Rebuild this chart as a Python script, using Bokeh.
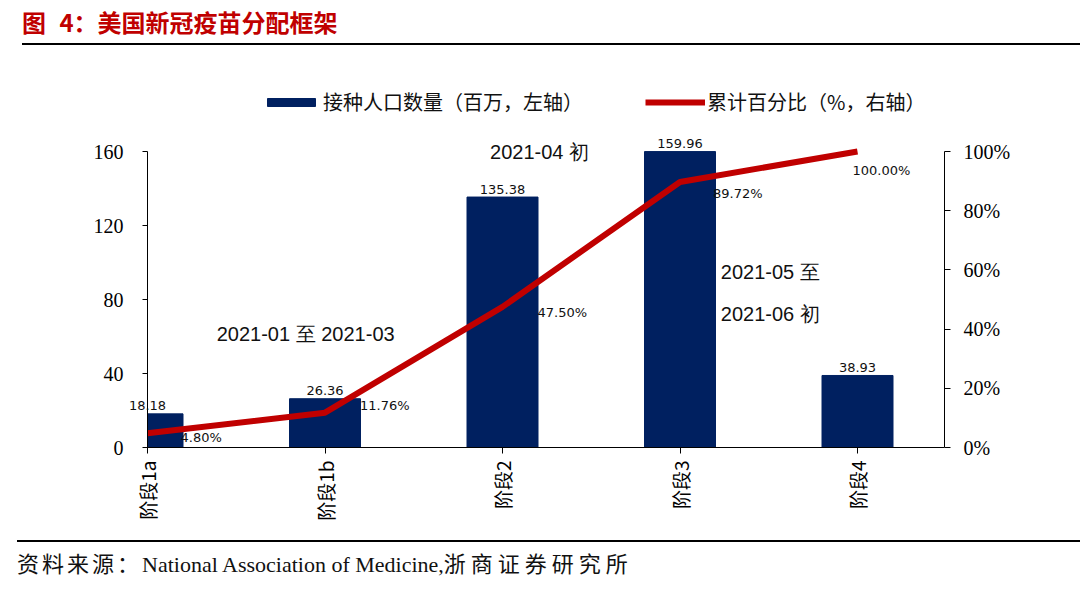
from bokeh.plotting import figure
from bokeh.models import (Range1d, LinearAxis, FixedTicker, NumeralTickFormatter,
                          ColumnDataSource, LabelSet, Legend, LegendItem, Div)
from bokeh.core.properties import value
from bokeh.layouts import column
from bokeh.embed import file_html
from bokeh.resources import INLINE

# ---------------- data ----------------
categories = ["阶段1a", "阶段1b", "阶段2", "阶段3", "阶段4"]
population = [18.18, 26.36, 135.38, 159.96, 38.93]       # 百万, left axis
cum_pct = [4.80, 11.76, 47.50, 89.72, 100.00]             # %, right axis
left_ticks = [0, 40, 80, 120, 160]
right_ticks = [0, 20, 40, 60, 80, 100]
legend_labels = ["接种人口数量（百万，左轴）", "累计百分比（%，右轴）"]
phase_notes = ["2021-01 至 2021-03", "2021-04 初", "2021-05 至", "2021-06 初"]
title_text = "图 4：美国新冠疫苗分配框架"
source_cn1 = "资料来源："
source_en = "National Association of Medicine,"
source_cn2 = "浙商证券研究所"

# ---------------- styles / placement ----------------
NAVY = "#002060"
RED = "#C00000"
CJK = "Noto Sans CJK SC"
SERIF = "Liberation Serif"
NUM_FONT = "DejaVu Sans"
NOTE_FONT = "Liberation Sans"
TXT = "#111111"
pct_dx = [33, 35, 35, 33, -5]
pct_dy = [-4, 7, -6, -12, -19]
note_x = [0.39, 1.93, 3.23, 3.23]
note_y = [61.1, 160.0, 95.1, 71.9]
BAR_W = 0.4

# pixel geometry (page pixels)
FIG_TOP, FIG_H, FIG_W = 46, 489, 1080
FRAME_L, FRAME_R, FRAME_T, FRAME_B = 60, 944, 70, 460
AXIS_X, ZERO_Y = 147, 447     # where the left axis / zero line sit
CAT_PX = 177.5                # pixels between categories
Y_PX = 296 / 160              # pixels per left-axis unit

x_start = (FRAME_L - AXIS_X) / CAT_PX
x_end = (FRAME_R - AXIS_X) / CAT_PX
y_start = -(FRAME_B - ZERO_Y) / Y_PX
y_end = (ZERO_Y - FRAME_T) / Y_PX
y_max = left_ticks[-1]

xs = list(range(len(categories)))
src = ColumnDataSource(dict(
    x=xs,
    left=[max(x - BAR_W / 2, 0) for x in xs],
    right=[x + BAR_W / 2 for x in xs],
    pop=population,
    pop_txt=[f"{v:.2f}" for v in population],
    pct=[v / 100 for v in cum_pct],
    pct_txt=[f"{v:.2f}%" for v in cum_pct],
    dx=pct_dx,
    dy=pct_dy,
))
note_src = ColumnDataSource(dict(x=note_x, y=note_y, text=phase_notes))

p = figure(width=FIG_W, height=FIG_H, output_backend="svg", toolbar_location=None,
           x_range=Range1d(x_start, x_end), y_range=Range1d(y_start, y_end),
           min_border_left=FRAME_L, min_border_right=FIG_W - FRAME_R,
           min_border_top=FRAME_T - FIG_TOP, min_border_bottom=FIG_TOP + FIG_H - FRAME_B)
p.extra_y_ranges = {"pct": Range1d(y_start / y_max, y_end / y_max)}
p.outline_line_color = None
p.xgrid.visible = False
p.ygrid.visible = False
p.background_fill_color = "white"
p.border_fill_color = "white"

# left axis (pinned at category 0)
ya = p.yaxis[0]
ya.fixed_location = 0
ya.bounds = (0, y_max)
ya.ticker = FixedTicker(ticks=left_ticks)
ya.minor_tick_line_color = None
ya.major_tick_in = 0
ya.major_tick_out = 5
ya.major_label_standoff = 19
ya.major_label_text_font = SERIF
ya.major_label_text_font_size = "20px"
ya.major_label_text_color = "black"
ya.axis_line_color = "black"
ya.major_tick_line_color = "black"

# bottom axis: category labels (at the frame edge)
xa = p.xaxis[0]
xa.bounds = (0, x_end)
xa.ticker = FixedTicker(ticks=xs)
xa.major_label_overrides = {i: c for i, c in zip(xs, categories)}
xa.major_label_orientation = 3.14159265 / 2
xa.minor_tick_line_color = None
xa.major_tick_line_color = None
xa.axis_line_color = None
xa.major_tick_in = 0
xa.major_tick_out = 0
xa.major_label_standoff = 0
xa.major_label_text_font = CJK
xa.major_label_text_font_size = "19px"
xa.major_label_text_color = "black"

# bottom axis line and ticks pinned at zero
xa0 = LinearAxis(fixed_location=0, bounds=(0, x_end), ticker=FixedTicker(ticks=xs))
xa0.major_label_overrides = {i: "" for i in xs}
xa0.minor_tick_line_color = None
xa0.major_tick_in = 0
xa0.major_tick_out = 6
xa0.major_label_standoff = 0
xa0.major_label_text_font_size = "1px"
xa0.axis_line_color = "black"
xa0.major_tick_line_color = "black"
p.add_layout(xa0, "below")

# right axis
ra = LinearAxis(y_range_name="pct", bounds=(0, 1),
                ticker=FixedTicker(ticks=[t / 100 for t in right_ticks]),
                formatter=NumeralTickFormatter(format="0%"))
ra.minor_tick_line_color = None
ra.major_tick_in = 0
ra.major_tick_out = 6
ra.major_label_standoff = 13
ra.major_label_text_font = SERIF
ra.major_label_text_font_size = "20px"
ra.major_label_text_color = "black"
ra.axis_line_color = "black"
ra.major_tick_line_color = "black"
p.add_layout(ra, "right")

bars = p.quad(left="left", right="right", bottom=0, top="pop", source=src,
              fill_color=NAVY, line_color=NAVY)
line = p.line(x="x", y="pct", y_range_name="pct", source=src,
              line_color=RED, line_width=6)

p.add_layout(LabelSet(x="x", y="pop", text="pop_txt", source=src,
                      text_align="center", text_baseline="middle", y_offset=8,
                      text_font=value(NUM_FONT), text_font_size="13px", text_color=TXT))
p.add_layout(LabelSet(x="x", y="pct", text="pct_txt", source=src, y_range_name="pct",
                      x_offset="dx", y_offset="dy",
                      text_align="left", text_baseline="middle",
                      text_font=value(NUM_FONT), text_font_size="13px", text_color=TXT))
p.add_layout(LabelSet(x="x", y="y", text="text", source=note_src,
                      text_align="left", text_baseline="middle",
                      text_font=value(NOTE_FONT), text_font_size="20px", text_color=TXT))

# legend (inside the enlarged frame)
legend = Legend(items=[LegendItem(label=legend_labels[0], renderers=[bars]),
                       LegendItem(label=legend_labels[1], renderers=[line])],
                location=(261 - FRAME_L, FRAME_B - 116),
                orientation="horizontal",
                padding=0, margin=0, spacing=62,
                border_line_alpha=0, background_fill_alpha=0,
                glyph_width=60, glyph_height=10, label_height=22, label_standoff=2,
                label_text_font=CJK, label_text_font_size="20px",
                label_text_color=TXT)
p.add_layout(legend, "center")

title_div = Div(
    text=(f'<div style="box-sizing:border-box;margin-left:22px;width:1058px;height:45px;padding-top:7px;'
          f'border-bottom:2px solid #000;font-family:\'{CJK}\';font-weight:bold;'
          f'font-size:24px;line-height:30px;color:{RED};word-spacing:8px;">'
          f'{title_text}</div>'),
    width=1080, height=FIG_TOP, margin=(0, 0, 0, 0))
source_div = Div(
    text=(f'<div style="margin-left:17px;width:1063px;margin-top:5px;border-top:2px solid #000;'
          f'padding-top:10px;font-family:\'{SERIF}\',\'{CJK}\';font-size:22px;line-height:26px;color:#111;">'
          f'<span style="letter-spacing:3px">{source_cn1}</span>{source_en}'
          f'<span style="letter-spacing:5px">{source_cn2}</span></div>'),
    width=1080, height=590 - FIG_TOP - FIG_H, margin=(0, 0, 0, 0))

layout = column(title_div, p, source_div, spacing=0)
open("out.html", "w").write(file_html(layout, INLINE))
